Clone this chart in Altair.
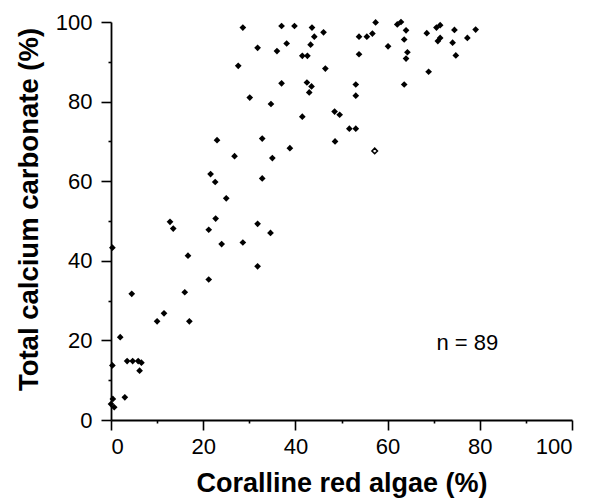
import altair as alt
import pandas as pd

# Coralline red algae (%) vs total calcium carbonate (%)
algae = [
    28.6, 31.8, 27.6, 30.1, 23.0, 32.8, 26.8, 21.6, 22.6, 32.8, 25.0,
    37.0, 39.8, 43.6, 57.4, 62.1, 62.9, 64.0, 68.5, 70.6, 71.4, 74.5, 79.1,
    44.1, 46.1, 53.8, 55.5, 56.7, 63.6, 70.9, 71.4, 74.1, 77.3, 38.1, 43.3,
    36.0, 41.5, 42.6, 60.1, 53.8, 64.3, 64.0, 74.8, 46.5, 68.9, 37.0, 42.5,
    43.5, 43.0, 53.1, 53.1, 63.6, 34.7, 41.5, 48.5, 49.6, 51.7, 53.1, 48.6,
    38.8, 35.0,
    12.8, 13.5, 22.7, 21.2, 31.8, 34.6, 0.3, 16.7, 24.0, 28.6, 31.8, 21.2,
    4.5, 16.0, 11.5, 10.0, 17.0, 2.0, 0.3, 3.5, 4.7, 5.9, 6.6, 6.2, 3.0,
    0.0, 0.4, 0.7,
]
carbonate = [
    98.6, 93.5, 89.0, 81.0, 70.3, 70.7, 66.3, 61.8, 59.8, 60.7, 55.7,
    99.0, 99.0, 98.6, 99.9, 99.4, 100.0, 97.9, 97.2, 98.6, 99.2, 98.0, 98.1,
    96.3, 97.4, 96.3, 96.3, 97.1, 95.6, 95.2, 96.0, 94.8, 96.0, 94.6, 94.3,
    92.7, 91.5, 91.5, 93.9, 91.9, 92.4, 90.8, 91.6, 88.3, 87.5, 84.6, 84.8,
    83.8, 82.3, 84.3, 81.5, 84.3, 79.4, 76.2, 77.5, 76.7, 73.2, 73.2, 70.0,
    68.3, 65.8,
    49.8, 48.1, 50.6, 47.8, 49.3, 47.0, 43.3, 41.3, 44.2, 44.6, 38.6, 35.3,
    31.7, 32.1, 26.8, 24.8, 24.8, 20.8, 13.7, 14.8, 14.8, 14.8, 14.4, 12.4, 5.7,
    4.0, 5.3, 3.2,
]
# one sample drawn as an open diamond
open_algae = [57.2]
open_carbonate = [67.6]

note_text = ["n = 89"]
note_x = [77.3]
note_y = [19.3]

major_ticks = [0, 20, 40, 60, 80, 100]
minor_ticks = [10, 30, 50, 70, 90]

df = pd.DataFrame({"algae": algae, "carbonate": carbonate})
df_open = pd.DataFrame({"algae": open_algae, "carbonate": open_carbonate})
df_note = pd.DataFrame({"x": note_x, "y": note_y, "t": note_text})

FONT = "Liberation Sans"
xscale = alt.Scale(domain=[0, 100], nice=False, zero=False)
yscale = alt.Scale(domain=[0, 100], nice=False, zero=False)

x_major = alt.Axis(
    values=major_ticks, tickSize=10, labelPadding=6, grid=False,
    title="Coralline red algae (%)", titleY=71, titleBaseline="alphabetic",
    titleFontSize=27,
)
y_major = alt.Axis(
    values=major_ticks, tickSize=10, labelPadding=9, grid=False,
    title="Total calcium carbonate (%)", titleX=-74, titleY=187,
    titleBaseline="alphabetic", titleAngle=-90, titleAlign="center",
    titleFontSize=27.5,
)
x_minor = alt.Axis(values=minor_ticks, tickSize=3, labels=False, domain=False,
                   title=None, orient="bottom", grid=False)
y_minor = alt.Axis(values=minor_ticks, tickSize=3, labels=False, domain=False,
                   title=None, orient="left", grid=False)

points = alt.Chart(df).mark_point(
    shape="diamond", filled=True, color="black", size=45, opacity=1
).encode(
    x=alt.X("algae:Q", scale=xscale, axis=x_major),
    y=alt.Y("carbonate:Q", scale=yscale, axis=y_major),
)

open_pts = alt.Chart(df_open).mark_point(
    shape="diamond", filled=False, color="black", size=30, strokeWidth=1.6, opacity=1
).encode(
    x=alt.X("algae:Q", scale=xscale, axis=x_minor),
    y=alt.Y("carbonate:Q", scale=yscale, axis=y_minor),
)

note = alt.Chart(df_note).mark_text(
    font=FONT, fontSize=22, color="black", align="center", baseline="middle"
).encode(
    x=alt.X("x:Q", scale=xscale, axis=None),
    y=alt.Y("y:Q", scale=yscale, axis=None),
    text="t:N",
)

chart = alt.layer(points, open_pts, note).resolve_axis(
    x="independent", y="independent"
).properties(
    width=461, height=398,
    autosize=alt.AutoSizeParams(type="none"),
    padding={"left": 103, "top": 14, "right": 20, "bottom": 78},
    background="white",
).configure_view(stroke=None).configure_axis(
    domainColor="black", domainWidth=1.8, tickColor="black", tickWidth=1.6,
    labelFont=FONT, labelFontSize=22, labelColor="black",
    titleFont=FONT, titleFontWeight="bold", titleColor="black",
)

chart.save("out.html", embed_options={"renderer": "svg", "actions": False})
